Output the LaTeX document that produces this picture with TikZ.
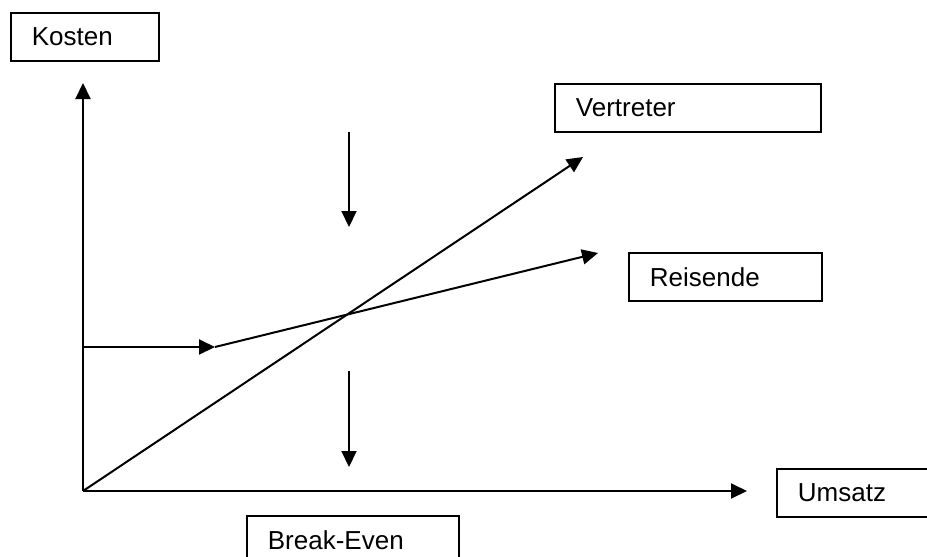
\documentclass[tikz,border=0pt]{standalone}
\usepackage{fontspec}
\setmainfont{Liberation Sans}
\usetikzlibrary{arrows.meta}

\tikzset{
	kasten/.style={draw, line width=1.8pt, anchor=north west, inner xsep=21pt,
		inner ysep=0pt, minimum height=48pt, align=left,
		font=\fontsize{26}{30}\selectfont},
	pfeil/.style={-{Triangle[length=16pt,width=15pt]}, line width=2pt}
}

\begin{document}
\begin{tikzpicture}[x=1pt,y=-1pt]
		\clip (0,0) rectangle (927,557);
		
		% Punkte festlegen
		\coordinate (O) at (83,491);
		\coordinate (yTip) at (83,83);
		\coordinate (xTip) at (747,491);
		\coordinate (fix) at (83,347);
		\coordinate (fixEnd) at (215,347);
		\coordinate (vTip) at (583,157);
		\coordinate (rTip) at (598,253);
		\coordinate (obenA) at (349,132);
		\coordinate (obenB) at (349,227);
		\coordinate (untenA) at (349,371);
		\coordinate (untenB) at (349,467);
		
		% Koordinatenachsen zeichnen
		\draw[pfeil] (O) -- (yTip);
		\draw[pfeil] (O) -- (xTip);
		
		% Geraden zeichnen
		\draw[pfeil] (fix) -- (fixEnd);
		\draw[pfeil] (fixEnd) -- (rTip);
		\draw[pfeil] (O) -- (vTip);
		
		% Pfeile am Break-Even
		\draw[pfeil] (obenA) -- (obenB);
		\draw[pfeil] (untenA) -- (untenB);
		
		% Beschriftungen eintragen
		\node[kasten, text width=106pt] (kosten) at (10,12) {Kosten};
		\node[kasten, text width=224pt] (vertreter) at (554,83) {Vertreter};
		\node[kasten, text width=151pt] (reisende) at (628,252) {Reisende};
		\node[kasten, text width=128pt] (umsatz) at (776,468) {Umsatz};
		\node[kasten, text width=170pt] (breakeven) at (246,515) {Break-Even};
	\end{tikzpicture}
\end{document}
